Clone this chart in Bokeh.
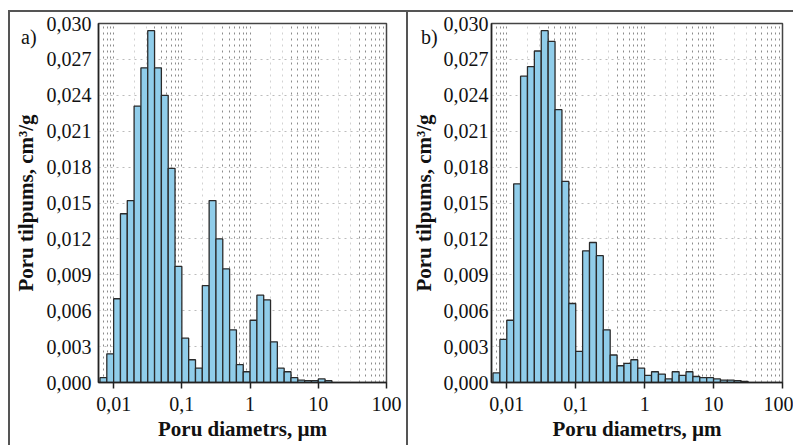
import numpy as np
from bokeh.plotting import figure
from bokeh.layouts import row, column
from bokeh.models import (Range1d, FixedTicker, CustomJSTickFormatter, Grid, Div,
                          ColumnDataSource, Spacer)
from bokeh.embed import file_html
from bokeh.resources import INLINE

# ---- data -------------------------------------------------------------
log_bin_start = -2.2          # left edge of first bin (log10 um)
bins_per_decade = 10

vol_a = [0.0004, 0.0024, 0.0070, 0.0141, 0.0152, 0.0231, 0.0263, 0.0294, 0.0263,
         0.0240, 0.0179, 0.0097, 0.0037, 0.0019, 0.0012, 0.0081, 0.0152, 0.0120,
         0.0095, 0.0044, 0.0015, 0.0009, 0.0052, 0.0073, 0.0069, 0.0034, 0.0012,
         0.0009, 0.0004, 0.0002, 0.00015, 0.00015, 0.0003, 0.00015]

vol_b = [0.0008, 0.0036, 0.0052, 0.0166, 0.0256, 0.0264, 0.0277, 0.0294, 0.0285,
         0.0228, 0.0168, 0.0066, 0.0026, 0.0110, 0.0117, 0.0106, 0.0044, 0.0023,
         0.0014, 0.0016, 0.0019, 0.0012, 0.0006, 0.0009, 0.0007, 0.0003, 0.0009,
         0.0006, 0.0009, 0.0005, 0.0004, 0.0004, 0.0003, 0.0002, 0.0002, 0.00015,
         0.0001]

y_ticks = [0.000, 0.003, 0.006, 0.009, 0.012, 0.015, 0.018, 0.021, 0.024, 0.027, 0.030]
x_ticks = [0.01, 0.1, 1, 10, 100]
x_tick_labels = ["0,01", "0,1", "1", "10", "100"]
panel_labels = ["a)", "b)"]
x_label = "Poru diametrs, µm"
y_label = "Poru tilpums, cm³/g"

# ---- style ------------------------------------------------------------
SERIF = "Liberation Serif"
BAR_FILL = "#90cdea"
BAR_LINE = "#2a2a2a"
RULE = "#555555"
FIG_H = 433          # figures start at y = 12

light_minor = [m * 10.0 ** k for k in range(-3, 2) for m in (2, 3)]
dark_minor = [m * 10.0 ** k for k in range(-3, 2) for m in (4, 5, 6, 7, 8, 9)] + x_ticks


def make_panel(values, width, border_left, border_right, lab_standoff, title_standoff):
    n = len(values)
    edges = 10.0 ** (log_bin_start + np.arange(n + 1) / bins_per_decade)
    src = ColumnDataSource(dict(left=edges[:-1], right=edges[1:], top=values))

    p = figure(width=width, height=FIG_H, x_axis_type="log",
               x_range=Range1d(0.006, 100), y_range=Range1d(0, 0.030),
               output_backend="svg", toolbar_location=None,
               min_border_left=border_left, min_border_right=border_right,
               min_border_top=11, min_border_bottom=FIG_H - 370)
    p.background_fill_color = "white"
    p.border_fill_color = "white"
    p.outline_line_color = "#444444"
    p.outline_line_width = 1.5

    # grids
    p.xgrid.grid_line_color = None
    p.ygrid.ticker = FixedTicker(ticks=y_ticks)
    p.ygrid.grid_line_color = "#bcbcbc"
    p.ygrid.grid_line_dash = "dotted"
    g1 = Grid(dimension=0, ticker=FixedTicker(ticks=light_minor),
              grid_line_color="#d2d2d2", grid_line_dash="dotted")
    g2 = Grid(dimension=0, ticker=FixedTicker(ticks=dark_minor),
              grid_line_color="#8c8c8c", grid_line_dash="dotted")
    p.add_layout(g1)
    p.add_layout(g2)

    p.quad(left="left", right="right", bottom=0, top="top", source=src,
           fill_color=BAR_FILL, line_color=BAR_LINE, line_width=1.3)

    # axes
    xa = p.xaxis[0]
    xa.ticker = FixedTicker(ticks=x_ticks, minor_ticks=[])
    xa.formatter = CustomJSTickFormatter(args=dict(xt=x_ticks, xl=x_tick_labels), code="""
        let best = 0, d = 1e9;
        for (let i = 0; i < xt.length; i++) {
            const dd = Math.abs(Math.log10(xt[i]) - Math.log10(tick));
            if (dd < d) { d = dd; best = i; }
        }
        return xl[best];
    """)
    xa.major_tick_out = 6
    xa.major_tick_in = 0
    xa.minor_tick_out = 0
    xa.minor_tick_in = 0
    xa.major_label_standoff = 8
    xa.axis_label = x_label
    xa.axis_label_standoff = 3

    ya = p.yaxis[0]
    ya.ticker = FixedTicker(ticks=y_ticks, minor_ticks=[])
    ya.formatter = CustomJSTickFormatter(code="return tick.toFixed(3).replace('.', ',');")
    ya.major_tick_out = 0
    ya.major_tick_in = 0
    ya.minor_tick_out = 0
    ya.minor_tick_in = 0
    ya.major_label_standoff = lab_standoff
    ya.axis_label = y_label
    ya.axis_label_standoff = title_standoff

    for ax in (xa, ya):
        ax.axis_line_color = "#222222"
        ax.axis_line_width = 1.5
        ax.major_tick_line_color = "#222222"
        ax.major_tick_line_width = 1.5
        ax.major_label_text_font = SERIF
        ax.major_label_text_font_size = "20px"
        ax.major_label_text_color = "#111111"
        ax.axis_label_text_font = SERIF
        ax.axis_label_text_font_size = "21px"
        ax.axis_label_text_font_style = "bold"
        ax.axis_label_text_color = "#111111"
    return p


p1 = make_panel(vol_a, 396, 85, 20, 7, 6)
p2 = make_panel(vol_b, 385, 83, 11, 3, 5)


def rule(w, h, color=RULE):
    return Spacer(width=w, height=h, styles={"background-color": color})


def tag_div(text, left, top):
    return Div(text=text, width=24, height=24,
               styles={"position": "absolute", "left": f"{left}px", "top": f"{top}px",
                       "font-family": SERIF, "font-size": "20px", "color": "#111111",
                       "line-height": "1.15", "z-index": "10"})


body = column(Spacer(width=785, height=10), rule(785, 2),
              row(rule(2, FIG_H), p1, rule(2, FIG_H), p2, spacing=0),
              spacing=0)
layout = row(Spacer(width=8, height=10), body,
             tag_div(panel_labels[0], 16, 21), tag_div(panel_labels[1], 416, 21),
             spacing=0)
open("out.html", "w").write(file_html(layout, INLINE))
